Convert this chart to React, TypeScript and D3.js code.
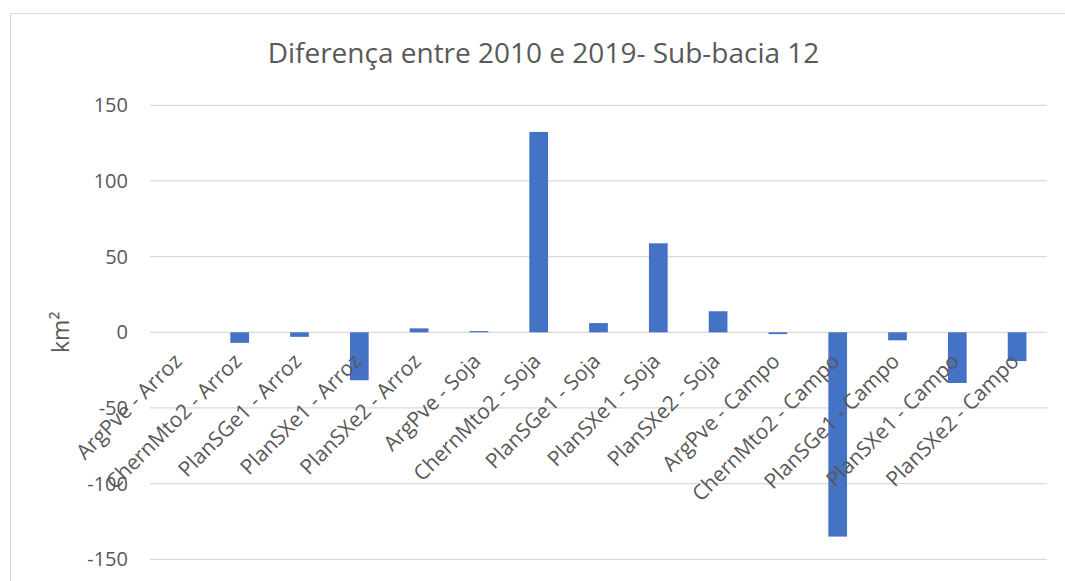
import React, { useEffect } from "react";
import * as d3 from "d3";

const categories = [
  "ArgPve - Arroz",
  "ChernMto2 - Arroz",
  "PlanSGe1 - Arroz",
  "PlanSXe1 - Arroz",
  "PlanSXe2 - Arroz",
  "ArgPve - Soja",
  "ChernMto2 - Soja",
  "PlanSGe1 - Soja",
  "PlanSXe1 - Soja",
  "PlanSXe2 - Soja",
  "ArgPve - Campo",
  "ChernMto2 - Campo",
  "PlanSGe1 - Campo",
  "PlanSXe1 - Campo",
  "PlanSXe2 - Campo",
];
const values = [0, -7, -3, -31.7, 2.6, 0.8, 132.4, 6.1, 58.8, 13.9, -1.2, -135, -5.3, -33.5, -19];
const yTicks = [-150, -100, -50, 0, 50, 100, 150];
const title = "Diferença entre 2010 e 2019- Sub-bacia 12";
const yTitle = "km²";

const W = 1065;
const H = 581;
const FONT = "'Open Sans', 'Noto Sans', sans-serif";
const TEXT = "#595959";
const GRID = "#D9D9D9";
const BAR = "#4472C4";

export default function App() {
  useEffect(() => {
    document.body.style.margin = "0";
  }, []);

  const x = d3
    .scaleBand<string>()
    .domain(categories)
    .range([150, 1047])
    .paddingInner(0.687)
    .paddingOuter(0.3435);
  const y = d3.scaleLinear().domain([-150, 150]).range([559.3, 105.3]);

  return (
    <svg width={W} height={H} style={{ display: "block", fontFamily: FONT }}>
      <rect x={0} y={0} width={W} height={H} fill="#fff" />
      <rect x={10.5} y={13.5} width={W + 10} height={H + 10} fill="none" stroke={GRID} strokeWidth={1} />
      <text x={543.5} y={63} textAnchor="middle" fontSize={28} fill={TEXT}>
        {title}
      </text>
      {yTicks.map((t) => (
        <g key={t}>
          <line x1={150} x2={1047} y1={y(t)} y2={y(t)} stroke={GRID} strokeWidth={1.3} />
          <text x={128} y={y(t)} dy="0.35em" textAnchor="end" fontSize={20} fill={TEXT}>
            {t}
          </text>
        </g>
      ))}
      <text
        transform={`translate(69,${y(0)}) rotate(-90)`}
        textAnchor="middle"
        fontSize={23}
        fill={TEXT}
      >
        {yTitle}
      </text>
      {categories.map((c, i) => {
        const v = values[i];
        const y0 = y(0);
        const y1 = y(v);
        return (
          <rect
            key={c}
            x={x(c)!}
            y={Math.min(y0, y1)}
            width={x.bandwidth()}
            height={Math.abs(y1 - y0)}
            fill={BAR}
          />
        );
      })}
      {categories.map((c) => {
        const cx = x(c)! + x.bandwidth() / 2;
        return (
          <text
            key={"l" + c}
            transform={`translate(${cx - 2},${y(0) + 25}) rotate(-45)`}
            textAnchor="end"
            dy="0.35em"
            fontSize={21}
            fill={TEXT}
          >
            {c}
          </text>
        );
      })}
    </svg>
  );
}
